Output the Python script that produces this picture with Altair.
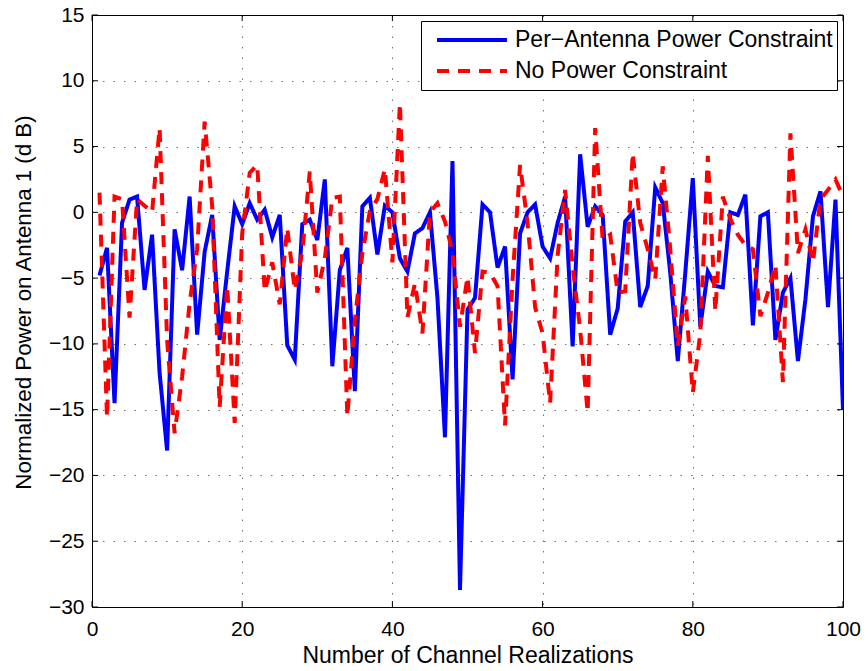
import altair as alt
import pandas as pd

realizations = list(range(1, 101))

per_antenna = [
    -4.8, -2.7, -14.5, -0.8, 0.97, 1.2, -5.9, -1.7, -12.2, -18.1,
    -1.3, -4.4, 1.2, -9.3, -3.0, -0.2, -9.7, -4.5, 0.46, -0.9,
    0.7, -0.56, 0.2, -1.9, -0.2, -10.1, -11.2, -0.9, -0.56, -2.1,
    2.5, -11.7, -4.4, -2.7, -13.6, 0.46, 1.1, -3.2, 0.5, 0.0,
    -3.5, -4.5, -1.6, -1.2, 0.0, -6.5, -17.1, 3.9, -28.7, -7.4,
    -6.5, 0.6, 0.0, -4.2, -2.6, -12.7, -1.6, 0.0, 0.6, -2.6,
    -3.5, -0.8, 1.2, -10.2, 4.4, -1.1, 0.46, -0.2, -9.3, -7.3,
    -0.7, 0.0, -7.2, -5.6, 1.9, 0.7, -4.6, -11.3, -4.6, 2.6,
    -8.7, -4.5, -5.6, -5.7, 0.0, -0.2, 1.35, -8.6, -0.3, 0.0,
    -9.7, -6.1, -5.0, -11.3, -6.6, -0.3, 1.6, -7.2, 0.97, -15.0,
]

no_constraint = [
    1.5, -15.6, 1.2, 1.0, -8.0, 1.0, 0.5, 0.0, 6.4, -9.7,
    -16.8, -12.5, -6.9, -2.8, 6.9, 0.5, -14.8, -5.6, -16.0, -1.6,
    3.0, 3.6, -6.0, -3.8, -7.0, -1.2, -5.9, -3.0, 3.1, -6.1,
    -3.5, 1.1, 1.2, -15.5, -8.2, -3.1, 0.1, 1.0, 3.3, -3.8,
    8.3, -8.0, -5.4, -9.2, 0.0, 0.7, -0.7, -3.0, -8.7, -4.9,
    -10.7, -4.5, -4.6, -5.6, -16.2, -5.1, 3.6, -0.8, -7.2, -9.2,
    -14.5, -3.3, 1.7, -4.1, -8.9, -15.2, 6.4, -2.1, -1.7, -6.1,
    -6.0, 4.5, -0.8, -2.8, -5.1, 3.5, -2.8, -10.2, -6.4, -13.7,
    -9.2, 4.3, -7.5, 1.2, -0.5, -1.7, -2.5, -2.8, -7.9, -6.1,
    -4.0, -12.9, 6.0, -3.1, -1.3, -3.8, 1.0, 1.7, 2.5, 1.2,
]

series_names = ["Per\u2212Antenna Power Constraint", "No Power Constraint"]
series_colors = ["#0000FF", "#FF0000"]
series_dashes = [[1, 0], [12, 9]]

x_ticks = [0, 20, 40, 60, 80, 100]
y_ticks = [-30, -25, -20, -15, -10, -5, 0, 5, 10, 15]

W, H = 751, 592
FONT = "Liberation Sans"

rows = []
for name, vals in zip(series_names, [per_antenna, no_constraint]):
    for x, v in zip(realizations, vals):
        rows.append({"x": x, "y": v, "series": name})
df = pd.DataFrame(rows)

xscale = alt.Scale(domain=[0, 100], nice=False, zero=False)
yscale = alt.Scale(domain=[-30, 15], nice=False, zero=False)

xaxis = alt.Axis(title="Number of Channel Realizations", values=x_ticks,
                 grid=True, ticks=False, tickSize=0, labelPadding=11,
                 labelFlush=False, titlePadding=5, titleFontSize=23)
yaxis = alt.Axis(title="Normalized Power on Antenna 1 (d B)", values=y_ticks,
                 grid=True, ticks=False, tickSize=0, labelPadding=8,
                 labelFlush=False, titlePadding=13, titleFontSize=22.3,
                 titleY=287)

lines = alt.Chart(df).mark_line(strokeWidth=4, clip=True).encode(
    x=alt.X("x:Q", scale=xscale, axis=xaxis),
    y=alt.Y("y:Q", scale=yscale, axis=yaxis),
    color=alt.Color("series:N",
                    scale=alt.Scale(domain=series_names, range=series_colors),
                    legend=alt.Legend(title=None)),
    strokeDash=alt.StrokeDash("series:N",
                              scale=alt.Scale(domain=series_names, range=series_dashes),
                              legend=alt.Legend(title=None)),
    order=alt.Order("x:Q"),
)

xt = pd.DataFrame({"x": x_ticks})
yt = pd.DataFrame({"y": y_ticks})

bottom_ticks = alt.Chart(xt).mark_rule(color="black", strokeWidth=1).encode(
    x=alt.X("x:Q", scale=xscale, axis=xaxis), y=alt.value(H), y2=alt.value(H - 6))
top_ticks = alt.Chart(xt).mark_rule(color="black", strokeWidth=1).encode(
    x=alt.X("x:Q", scale=xscale, axis=xaxis), y=alt.value(0), y2=alt.value(6))
left_ticks = alt.Chart(yt).mark_rule(color="black", strokeWidth=1).encode(
    y=alt.Y("y:Q", scale=yscale, axis=yaxis), x=alt.value(0), x2=alt.value(6))
right_ticks = alt.Chart(yt).mark_rule(color="black", strokeWidth=1).encode(
    y=alt.Y("y:Q", scale=yscale, axis=yaxis), x=alt.value(W), x2=alt.value(W - 6))

chart = alt.layer(
    lines, bottom_ticks, top_ticks, left_ticks, right_ticks
).properties(
    width=W, height=H,
    autosize=alt.AutoSizeParams(type="none"),
    padding={"left": 92, "top": 15, "right": 25, "bottom": 64},
    background="white",
).configure_view(
    stroke="black", strokeWidth=1
).configure_axis(
    domain=False,
    gridColor="#000000", gridOpacity=0.55, gridDash=[1.5, 9], gridWidth=1,
    labelFont=FONT, labelFontSize=21, labelColor="black",
    titleFont=FONT, titleColor="black", titleFontWeight="normal",
).configure_legend(
    orient="top-right", offset=6,
    strokeColor="black", fillColor="white", padding=4,
    symbolType="stroke", symbolSize=4900, symbolStrokeWidth=4,
    symbolOffset=10, labelOffset=6, clipHeight=30, rowPadding=1,
    labelFont=FONT, labelFontSize=23, labelColor="black", labelLimit=500,
    cornerRadius=0,
)

chart.save("out.html", embed_options={"renderer": "svg", "actions": False})
